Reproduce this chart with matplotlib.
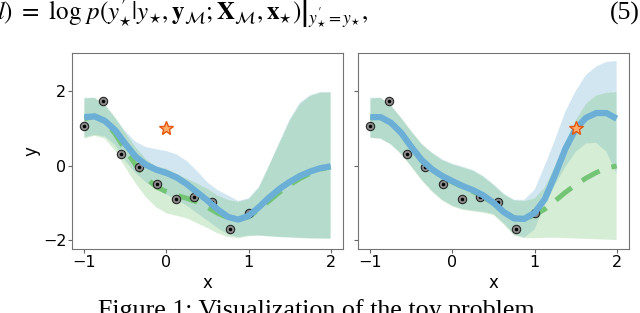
"""Toy problem figure: GP fits with and without the extra starred point."""

import matplotlib

matplotlib.use("Agg")
import matplotlib.pyplot as plt

plt.rcParams["mathtext.fontset"] = "stix"

# shared x grid for the curves and bands
grid_x = [-1.0, -0.875, -0.75, -0.625, -0.5, -0.375, -0.25, -0.125, 0.0,
          0.125, 0.25, 0.375, 0.5, 0.625, 0.75, 0.875, 1.0, 1.125, 1.25,
          1.375, 1.5, 1.625, 1.75, 1.875, 2.0]

# observed points (same in both panels)
obs_x = [-1.0, -0.778, -0.556, -0.333, -0.111, 0.111, 0.333, 0.556, 0.778, 1.0]
obs_y = [1.05, 1.72, 0.32, -0.04, -0.50, -0.90, -0.85, -0.97, -1.69, -1.27]

# starred query point per panel
star_left = (0.0, 1.0)
star_right = (1.5, 1.0)

# left panel
blue_mean_left = [1.30, 1.32, 1.20, 0.95, 0.58, 0.24, 0.02, -0.11, -0.20,
                  -0.32, -0.50, -0.72, -0.94, -1.18, -1.38, -1.45, -1.35,
                  -1.12, -0.86, -0.63, -0.44, -0.28, -0.16, -0.07, -0.02]
blue_upper_left = [1.82, 1.82, 1.62, 1.28, 0.92, 0.64, 0.50, 0.44, 0.39,
                   0.30, 0.12, -0.15, -0.45, -0.66, -0.80, -0.95, -0.88,
                   -0.57, 0.00, 0.62, 1.24, 1.69, 1.89, 1.97, 1.97]
blue_lower_left = [0.76, 0.82, 0.78, 0.55, 0.12, -0.20, -0.45, -0.63, -0.78,
                   -0.92, -1.08, -1.28, -1.48, -1.68, -1.85, -1.92, -1.88,
                   -1.88, -1.90, -1.92, -1.93, -1.94, -1.95, -1.96, -1.96]
green_mean_left = [1.25, 1.33, 1.20, 0.85, 0.42, 0.02, -0.33, -0.57, -0.70,
                   -0.80, -0.88, -0.98, -1.12, -1.28, -1.40, -1.45, -1.38,
                   -1.18, -0.95, -0.72, -0.52, -0.35, -0.21, -0.10, -0.03]
green_upper_left = [1.80, 1.82, 1.65, 1.30, 0.88, 0.50, 0.18, -0.02, -0.08,
                    -0.22, -0.35, -0.48, -0.62, -0.80, -0.92, -0.97, -0.90,
                    -0.60, 0.00, 0.60, 1.20, 1.65, 1.87, 1.96, 1.97]
green_lower_left = [0.72, 0.80, 0.72, 0.40, -0.05, -0.48, -0.85, -1.12, -1.28,
                    -1.35, -1.42, -1.55, -1.68, -1.82, -1.92, -1.95, -1.90,
                    -1.88, -1.90, -1.92, -1.93, -1.95, -1.96, -1.96, -1.97]

# right panel
blue_mean_right = [1.30, 1.30, 1.15, 0.88, 0.50, 0.15, -0.10, -0.28, -0.42,
                   -0.55, -0.66, -0.80, -1.00, -1.25, -1.42, -1.43, -1.27,
                   -0.90, -0.25, 0.45, 0.98, 1.28, 1.41, 1.41, 1.26]
blue_upper_right = [1.82, 1.82, 1.62, 1.28, 0.92, 0.58, 0.35, 0.17, 0.05,
                    -0.03, -0.12, -0.28, -0.50, -0.75, -0.92, -0.92, -0.65,
                    0.00, 0.70, 1.45, 2.00, 2.43, 2.66, 2.78, 2.81]
blue_lower_right = [0.75, 0.72, 0.57, 0.32, -0.02, -0.38, -0.68, -0.92, -1.08,
                    -1.17, -1.21, -1.24, -1.30, -1.55, -1.85, -1.93, -1.72,
                    -1.05, -0.52, -0.04, 0.36, 0.59, 0.61, 0.37, -0.23]
green_mean_right = [1.28, 1.30, 1.15, 0.88, 0.50, 0.15, -0.10, -0.29, -0.44,
                    -0.58, -0.70, -0.84, -1.02, -1.25, -1.40, -1.43, -1.33,
                    -1.17, -0.95, -0.72, -0.52, -0.34, -0.19, -0.07, -0.01]
green_upper_right = [1.80, 1.82, 1.62, 1.28, 0.92, 0.58, 0.34, 0.15, 0.03,
                     -0.05, -0.14, -0.30, -0.52, -0.77, -0.93, -0.95, -0.88,
                     -0.58, 0.00, 0.62, 1.22, 1.66, 1.88, 1.96, 1.97]
green_lower_right = [0.74, 0.72, 0.56, 0.30, -0.04, -0.40, -0.70, -0.94, -1.10,
                     -1.19, -1.23, -1.27, -1.33, -1.58, -1.88, -1.95, -1.95,
                     -1.94, -1.94, -1.95, -1.96, -1.97, -1.98, -1.99, -2.00]

x_ticks = [-1, 0, 1, 2]
y_ticks = [-2, 0, 2]

BLUE = "#6baed6"
GREEN = "#74c476"


def draw_panel(ax, blue, green, star):
    """밴드, 평균선, 관측점, 별표를 한 축에 그린다."""
    b_mean, b_up, b_lo = blue
    g_mean, g_up, g_lo = green
    ax.fill_between(grid_x, b_lo, b_up, color=BLUE, alpha=0.3,
                    edgecolor="white", linewidth=0.7, linestyle=":", zorder=1)
    ax.fill_between(grid_x, g_lo, g_up, color=GREEN, alpha=0.3,
                    edgecolor="white", linewidth=0.7, linestyle=":", zorder=2)
    ax.plot(grid_x, g_mean, color=GREEN, lw=3.6, dashes=(4, 2.5), zorder=3)
    ax.plot(obs_x, obs_y, "o", ms=6, mfc="0.55", mec="0.15", mew=0.8, zorder=4)
    ax.plot(obs_x, obs_y, ".", ms=3, color="k", zorder=4)
    ax.plot(grid_x, b_mean, color=BLUE, lw=4.5, solid_capstyle="butt", zorder=5)
    ax.plot(*star, "*", ms=10, mfc="#fdae6b", mec="#e6550d", mew=1.0, zorder=6)

    ax.set_xlim(-1.15, 2.15)
    ax.set_ylim(-2.24, 3.02)
    ax.set_xticks(x_ticks)
    ax.set_yticks(y_ticks)
    ax.tick_params(labelsize=11.5, length=3, pad=1, color="0.4")
    for spine in ax.spines.values():
        spine.set_color("0.45")
    ax.set_xlabel("x", fontsize=12, labelpad=3)


fig = plt.figure(figsize=(6.4, 3.13), dpi=100)
ax_left = fig.add_axes([0.1125, 0.2045, 0.4234, 0.626])
ax_right = fig.add_axes([0.5594, 0.2045, 0.4234, 0.626], sharey=ax_left)

draw_panel(ax_left, (blue_mean_left, blue_upper_left, blue_lower_left),
           (green_mean_left, green_upper_left, green_lower_left), star_left)
draw_panel(ax_right, (blue_mean_right, blue_upper_right, blue_lower_right),
           (green_mean_right, green_upper_right, green_lower_right), star_right)
ax_left.set_ylabel("y", fontsize=12, labelpad=2)
ax_right.tick_params(labelleft=False)

# surrounding paper text, cut off by the screenshot
fig.text(-0.004, 1 - 20 / 313,
         r"$l)\ =\ \log\, p\left.(y^{\prime}_{\star}|y_{\star},"
         r" \mathbf{y}_{\mathcal{M}}; \mathbf{X}_{\mathcal{M}}, \mathbf{x}_{\star})"
         r"\right|_{y^{\prime}_{\star} = y_{\star}},$",
         fontsize=18, va="baseline", ha="left")
fig.text(0.999, 1 - 20 / 313, "(5)", fontsize=18.5, va="baseline", ha="right",
         family="Liberation Serif")
fig.text(98 / 640, 1 - 316.5 / 313, "Figure 1: Visualization of the toy problem.",
         fontsize=18.7, va="baseline", ha="left", family="Liberation Serif")

fig.savefig("out.png", dpi=100)
